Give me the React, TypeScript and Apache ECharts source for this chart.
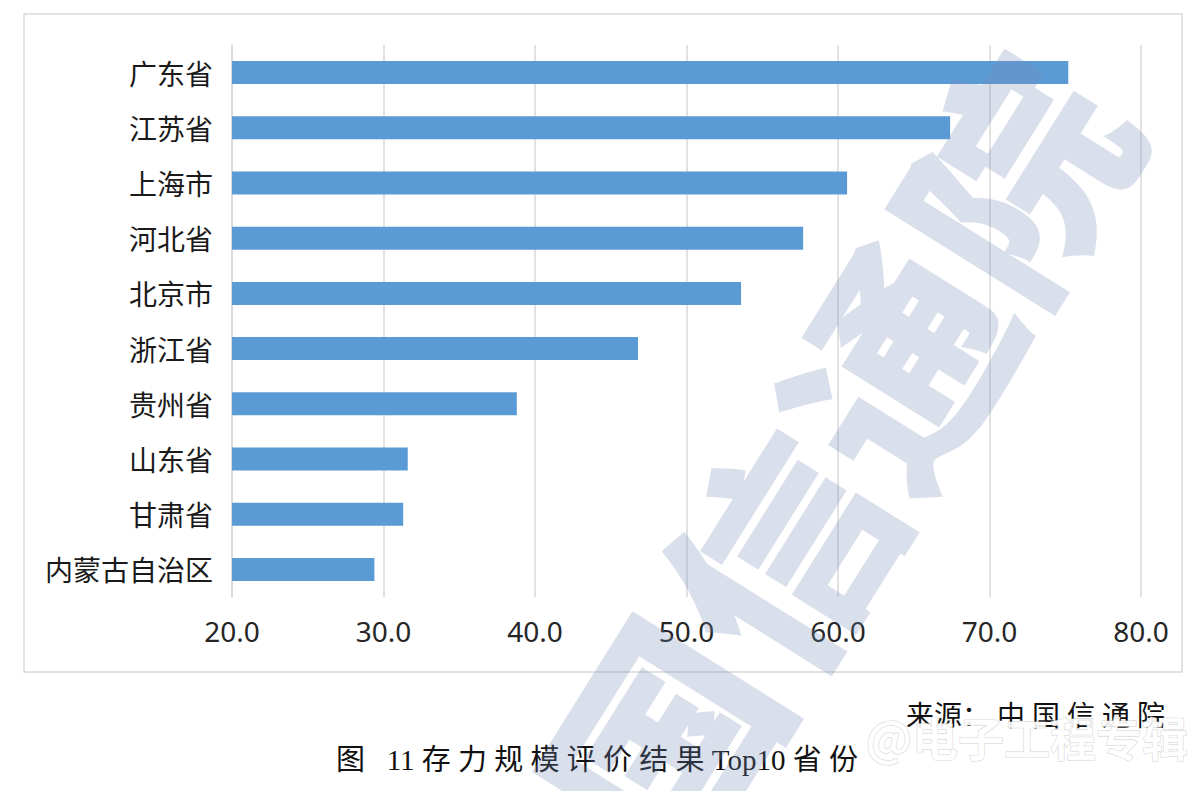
import React, { useEffect, useRef } from "react";
import * as echarts from "echarts";

const categories = ["广东省", "江苏省", "上海市", "河北省", "北京市", "浙江省", "贵州省", "山东省", "甘肃省", "内蒙古自治区"];
const values = [75.2, 67.4, 60.6, 57.7, 53.6, 46.8, 38.8, 31.6, 31.3, 29.4];
const xTicks = { min: 20, max: 80, interval: 10 };
const captionText = "图\u2005\u2005 11 存\u2005力\u2005规\u2005模\u2005评\u2005价\u2005结\u2005果 Top10 省\u2005份";
const sourceText = "来源：\u2005中\u2005国\u2005信\u2005通\u2005院";
const watermarkText = "中国信通院";
const stampText = "@电子工程专辑";

export default function App() {
  const ref = useRef<HTMLDivElement>(null);
  useEffect(() => {
    if (!ref.current) return;
    const chart = echarts.init(ref.current, null, { renderer: "svg" });
    const ang = (58 * Math.PI) / 180;
    chart.setOption({
      animation: false,
      backgroundColor: "#ffffff",
      grid: { left: 232, right: 59, top: 45, bottom: 194, containLabel: false },
      xAxis: {
        type: "value",
        min: xTicks.min,
        max: xTicks.max,
        interval: xTicks.interval,
        axisLine: { show: false },
        axisTick: { show: false },
        splitLine: { show: true, lineStyle: { color: "#d9d9d9", width: 1.5 } },
        axisLabel: {
          formatter: (v: number) => v.toFixed(1),
          fontSize: 28,
          color: "#262626",
          fontFamily: "'Noto Sans', 'Open Sans', sans-serif",
          margin: 20,
        },
      },
      yAxis: {
        type: "category",
        inverse: true,
        data: categories,
        axisLine: { show: true, lineStyle: { color: "#d9d9d9", width: 1.5 } },
        axisTick: { show: false },
        axisLabel: {
          fontSize: 28,
          color: "#1a1a1a",
          fontFamily: "'Noto Sans CJK SC', sans-serif",
          margin: 19,
        },
      },
      series: [
        {
          type: "bar",
          data: values,
          barWidth: 23,
          itemStyle: { color: "#5b9bd5" },
        },
      ],
      graphic: [
        {
          type: "rect",
          z: -10,
          silent: true,
          shape: { x: 24, y: 14, width: 1158, height: 658 },
          style: { fill: "none", stroke: "#d9d9d9", lineWidth: 1.5 },
        },
        {
          type: "text",
          z: 50,
          silent: true,
          x: 772,
          y: 548,
          rotation: ang,
          style: {
            text: watermarkText,
            fontSize: 222,
            fontWeight: 900,
            fontFamily: "'Noto Sans CJK SC', sans-serif",
            fill: "rgba(120,135,185,0.27)",
            align: "center",
            verticalAlign: "middle",
          },
        },
        {
          type: "text",
          z: 40,
          x: 1165,
          y: 716,
          style: {
            text: sourceText,
            fontSize: 28,
            fontFamily: "'Liberation Serif', 'Noto Sans CJK SC', serif",
            fill: "#111111",
            align: "right",
            verticalAlign: "middle",
          },
        },
        {
          type: "text",
          z: 40,
          x: 597,
          y: 760,
          style: {
            text: captionText,
            fontSize: 29,
            fontFamily: "'Liberation Serif', 'Noto Sans CJK SC', serif",
            fill: "#111111",
            align: "center",
            verticalAlign: "middle",
          },
        },
        {
          type: "text",
          z: 60,
          silent: true,
          x: 1188,
          y: 736,
          style: {
            text: stampText,
            fontSize: 46,
            fontWeight: "bold",
            fontFamily: "'Noto Sans CJK SC', sans-serif",
            fill: "rgba(255,255,255,0.92)",
            stroke: "rgba(190,190,190,0.7)",
            lineWidth: 1,
            shadowColor: "rgba(0,0,0,0.25)",
            shadowBlur: 4,
            align: "right",
            verticalAlign: "middle",
          },
        },
      ],
    });
    return () => chart.dispose();
  }, []);
  return (
    <div
      ref={ref}
      style={{ position: "absolute", left: 0, top: 0, width: 1200, height: 791 }}
    />
  );
}
